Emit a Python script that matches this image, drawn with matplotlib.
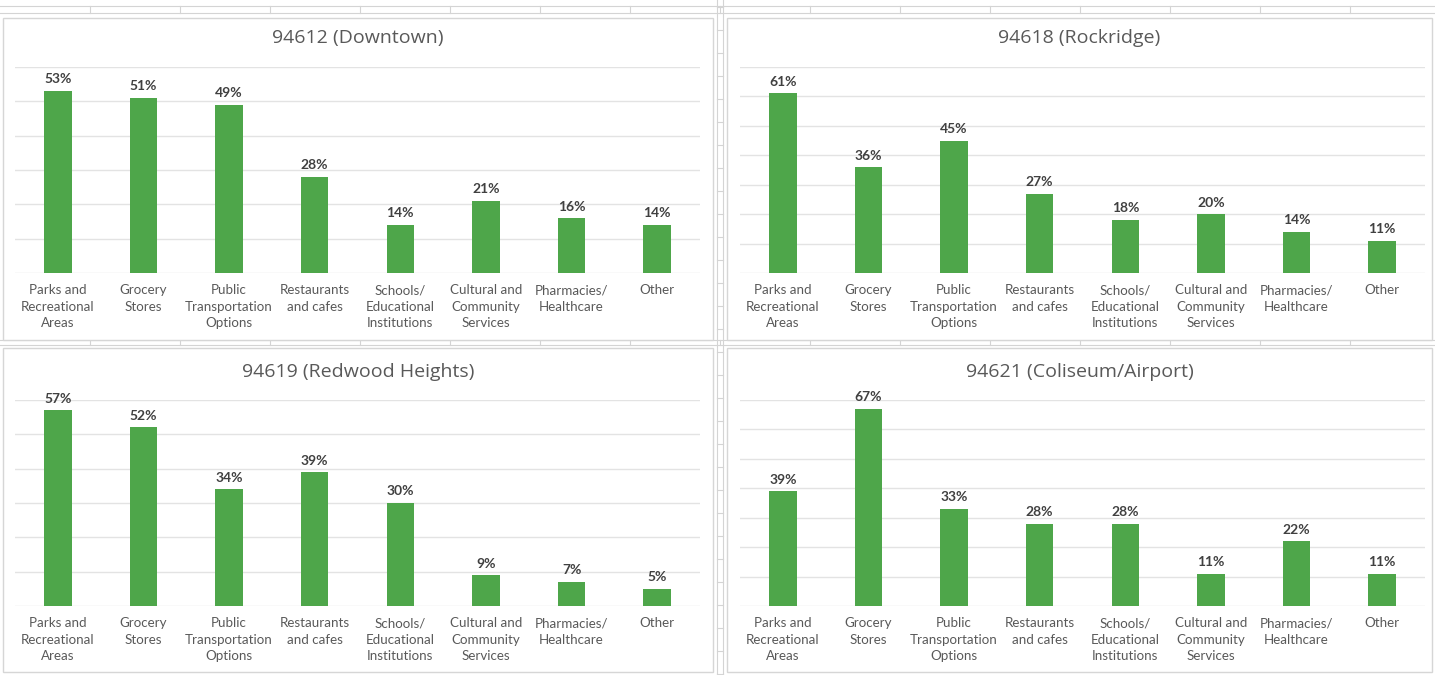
import matplotlib
matplotlib.use("Agg")
import matplotlib.pyplot as plt
from matplotlib.patches import Rectangle
from matplotlib.lines import Line2D

W, H = 1435, 675

categories = ["Parks and\nRecreational\nAreas", "Grocery\nStores",
              "Public\nTransportation\nOptions", "Restaurants\nand cafes",
              "Schools/\nEducational\nInstitutions", "Cultural and\nCommunity\nServices",
              "Pharmacies/\nHealthcare", "Other"]

titles = ["94612 (Downtown)", "94618 (Rockridge)",
          "94619 (Redwood Heights)", "94621 (Coliseum/Airport)"]

downtown = [53, 51, 49, 28, 14, 21, 16, 14]
rockridge = [61, 36, 45, 27, 18, 20, 14, 11]
redwood = [57, 52, 34, 39, 30, 9, 7, 5]
coliseum = [39, 67, 33, 28, 28, 11, 22, 11]

series = [downtown, rockridge, redwood, coliseum]
ymax = [60, 70, 60, 70]

green = "#4EA64A"
grid_c = "#e3e3e3"

fig = plt.figure(figsize=(W / 100, H / 100), dpi=100)
fig.patch.set_facecolor("white")


def fx(x):
    return x / W


def fy(y):
    return 1 - y / H


# spreadsheet grid peeking between the charts
sheet = "#d4d4d4"
for y in [6, 13, 340, 345]:
    fig.add_artist(Line2D([0, 1], [fy(y), fy(y)], color=sheet, lw=0.8, zorder=-3))
for x in range(90, W, 90):
    fig.add_artist(Line2D([fx(x), fx(x)], [fy(6), fy(13)], color=sheet, lw=0.8, zorder=-3))
    fig.add_artist(Line2D([fx(x), fx(x)], [fy(340), fy(345)], color=sheet, lw=0.8, zorder=-3))
for x in [717, 723]:
    fig.add_artist(Line2D([fx(x), fx(x)], [0, 1], color=sheet, lw=0.8, zorder=-3))
for y in range(7, H, 23):
    fig.add_artist(Line2D([fx(717), fx(723)], [fy(y), fy(y)], color=sheet, lw=0.8, zorder=-3))

# panel boxes: (left, top, right, bottom) in pixels
boxes = [(3, 18, 713, 340), (727, 18, 1432, 340),
         (3, 348, 713, 672), (727, 348, 1432, 672)]
# axes: (left, top, right, bottom)
axes_px = [(15, 67, 700, 273), (740, 67, 1425, 273),
           (15, 400, 700, 606), (740, 400, 1425, 606)]
title_y = [38, 38, 372, 372]

for i in range(4):
    l, t, r, b = boxes[i]
    fig.add_artist(Rectangle((fx(l), fy(b)), fx(r - l), (b - t) / H,
                             facecolor="white", edgecolor="#d6d6d6", lw=1, zorder=-2))

    al, at, ar, ab = axes_px[i]
    ax = fig.add_axes([fx(al), fy(ab), fx(ar - al), (ab - at) / H])
    ax.set_facecolor("none")
    vals = series[i]
    xs = range(len(categories))
    bars = ax.bar(xs, vals, width=0.32, color=green, zorder=3)
    ax.set_xlim(-0.5, len(categories) - 0.5)
    ax.set_ylim(0, ymax[i])
    ax.set_yticks(range(0, ymax[i] + 1, 10))
    ax.yaxis.grid(True, color=grid_c, lw=1, zorder=0)
    ax.set_yticklabels([])
    ax.tick_params(axis="y", length=0)
    for s in ax.spines.values():
        s.set_visible(False)
    ax.set_xticks(list(xs))
    ax.set_xticklabels(categories, fontsize=9.6, color="#595959",
                       family=["Lato", "DejaVu Sans"], linespacing=1.45)
    ax.tick_params(axis="x", length=0, pad=8)
    for rect, v in zip(bars, vals):
        ax.annotate(f"{v}%", (rect.get_x() + rect.get_width() / 2, v),
                    xytext=(0, 4), textcoords="offset points",
                    ha="center", va="bottom", fontsize=10, fontweight="bold",
                    color="#404040", family=["Lato", "DejaVu Sans"])

    fig.text(fx((l + r) / 2), fy(title_y[i]), titles[i], ha="center", va="center",
             fontsize=14, color="#595959", family=["Open Sans", "DejaVu Sans"])

fig.savefig("out.png", dpi=100)
